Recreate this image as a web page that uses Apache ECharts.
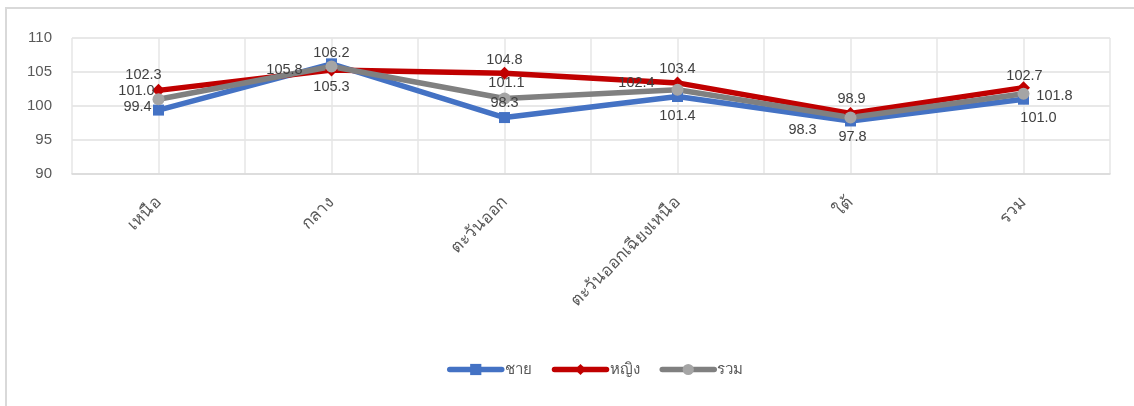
<!DOCTYPE html>
<html>
<head>
<meta charset="utf-8">
<style>
  html, body { margin: 0; padding: 0; background: #ffffff; }
  #chart { width: 1134px; height: 406px; }
</style>
<script src="https://cdn.jsdelivr.net/npm/echarts@6/dist/echarts.min.js"></script>
</head>
<body>
<div id="chart"></div>
<script>
// Regions (categories) and index values per group
const regions = ['เหนือ', 'กลาง', 'ตะวันออก', 'ตะวันออกเฉียงเหนือ', 'ใต้', 'รวม'];
const male   = [99.4, 106.2, 98.3, 101.4, 97.8, 101.0];
const female = [102.3, 105.3, 104.8, 103.4, 98.9, 102.7];
const total  = [101.0, 105.8, 101.1, 102.4, 98.3, 101.8];
const seriesNames = ['ชาย', 'หญิง', 'รวม'];

// Value-label placement (offset from the point, in px)
const maleLabelOffsets   = [[-21, -3], [0, -11], [0, -15], [0, 20], [2, 16], [15, 19]];
const femaleLabelOffsets = [[-15, -15], [0, 17], [0, -13], [0, -14], [1, -14], [1, -12]];
const totalLabelOffsets  = [[-22, -8], [-47, 3], [2, -16], [-41, -7], [-48, 12], [31, 2]];

const FONT = '"Liberation Sans", Arial, "Noto Sans", sans-serif';
const labelColor = '#404040';

function buildData(values, offsets) {
  return values.map((v, i) => ({ value: v, label: { offset: offsets[i] } }));
}

function makeSeries(name, values, offsets, color, symbol, size, fill) {
  return {
    name: name,
    type: 'line',
    xAxisIndex: 0,
    data: buildData(values, offsets),
    symbol: symbol,
    symbolSize: size,
    lineStyle: { color: color, width: 5.5 },
    itemStyle: { color: fill, borderColor: fill, borderWidth: 0 },
    emphasis: { disabled: true },
    label: {
      show: true,
      position: 'inside',
      color: labelColor,
      fontSize: 14.5,
      fontFamily: FONT,
      formatter: p => p.value.toFixed(1)
    },
    animation: false
  };
}

const chart = echarts.init(document.getElementById('chart'));
chart.setOption({
  animation: false,
  backgroundColor: '#ffffff',
  textStyle: { fontFamily: FONT },
  graphic: [
    { type: 'line', shape: { x1: 5, y1: 8, x2: 1140, y2: 8 }, style: { stroke: '#d9d9d9', lineWidth: 2 }, silent: true },
    { type: 'line', shape: { x1: 6, y1: 8, x2: 6, y2: 410 }, style: { stroke: '#d9d9d9', lineWidth: 2 }, silent: true }
  ],
  grid: { left: 72, right: 24, top: 38, bottom: 232, containLabel: false },
  legend: {
    top: 357,
    left: 442,
    itemWidth: 52,
    itemHeight: 14,
    itemGap: 20,
    lineStyle: { width: 5.5, cap: 'round' },
    textStyle: { color: '#595959', fontSize: 15, fontFamily: FONT, padding: [0, 0, 0, -2] },
    data: seriesNames
  },
  xAxis: [
    {
      type: 'category',
      data: regions,
      boundaryGap: true,
      axisLine: { show: true, lineStyle: { color: '#d9d9d9', width: 1.5 } },
      axisTick: { show: false },
      splitLine: { show: false },
      axisLabel: {
        interval: 0,
        rotate: 45,
        margin: 26,
        color: '#595959',
        fontSize: 17,
        fontFamily: FONT
      }
    },
    {
      // half-category vertical gridlines
      type: 'value',
      position: 'bottom',
      min: 0,
      max: 12,
      interval: 1,
      axisLine: { show: false },
      axisTick: { show: false },
      axisLabel: { show: false },
      splitLine: { show: true, lineStyle: { color: '#e6e6e6', width: 1.5 } }
    }
  ],
  yAxis: {
    type: 'value',
    min: 90,
    max: 110,
    interval: 5,
    axisLine: { show: false },
    axisTick: { show: false },
    axisLabel: { color: '#595959', fontSize: 15, fontFamily: FONT, margin: 20 },
    splitLine: { show: true, lineStyle: { color: '#e0e0e0', width: 1.5 } }
  },
  series: [
    makeSeries(seriesNames[0], male, maleLabelOffsets, '#4472c4', 'rect', 11, '#4472c4'),
    makeSeries(seriesNames[1], female, femaleLabelOffsets, '#c00000', 'diamond', 13, '#c00000'),
    makeSeries(seriesNames[2], total, totalLabelOffsets, '#808080', 'circle', 12, '#a5a5a5')
  ]
});
</script>
</body>
</html>
